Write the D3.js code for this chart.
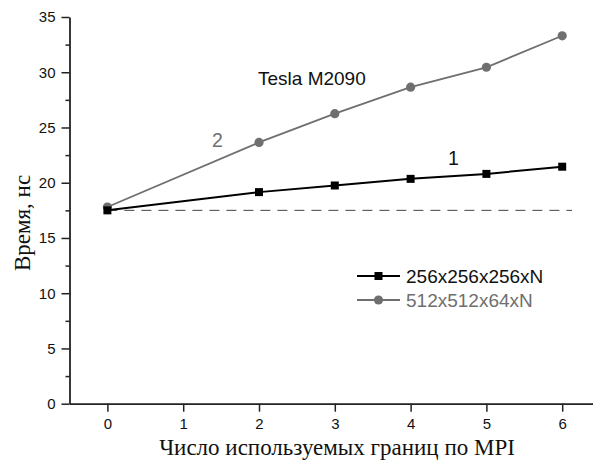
<!DOCTYPE html>
<html>
<head>
<meta charset="utf-8">
<script src="https://cdn.jsdelivr.net/npm/d3@7"></script>
<style>
	body { margin: 0; background: #fff; }
	svg { display: block; }
</style>
</head>
<body>
<div id="chart"></div>
<script>
// data
const xTicks = [0, 1, 2, 3, 4, 5, 6];
const yTicks = [0, 5, 10, 15, 20, 25, 30, 35];
const boundaries = [0, 2, 3, 4, 5, 6];
const series1 = [17.5, 19.15, 19.75, 20.35, 20.8, 21.45]; // 256x256x256xN
const series2 = [17.8, 23.65, 26.25, 28.65, 30.45, 33.3]; // 512x512x64xN
const baseline = 17.5;
const legendLabels = ['256x256x256xN', '512x512x64xN'];

const W = 593, H = 461;
const MARGIN = { LEFT: 69.5, TOP: 17, RIGHT: 0, BOTTOM: 57 };
const GRAY = '#6f6f6f';
const sans = 'Arial, "Liberation Sans", sans-serif';
const serif = '"Times New Roman", "Liberation Serif", serif';

const svg = d3.select('#chart').append('svg')
	.attr('width', W)
	.attr('height', H);

const x = d3.scaleLinear().domain([-0.5, 6.5]).range([MARGIN.LEFT, MARGIN.LEFT + 530.6]);
const y = d3.scaleLinear().domain([0, 35]).range([403.7, MARGIN.TOP]);

// y axis with minor ticks
const yMinor = d3.range(2.5, 35, 5);
svg.append('g')
	.attr('transform', `translate(${MARGIN.LEFT},0)`)
	.call(d3.axisLeft(y).tickValues(yMinor).tickSize(4).tickFormat(''))
	.call(g => g.select('.domain').remove())
	.selectAll('line').attr('stroke', '#222').attr('stroke-width', 1.5);

const axisY = svg.append('g')
	.attr('transform', `translate(${MARGIN.LEFT},0)`)
	.call(d3.axisLeft(y).tickValues(yTicks).tickSize(8).tickPadding(6).tickSizeOuter(0));

const axisX = svg.append('g')
	.attr('transform', `translate(0,${y(0)})`)
	.call(d3.axisBottom(x).tickValues(xTicks).tickFormat(d3.format('d'))
		.tickSize(8).tickPadding(7).tickSizeOuter(0));

[axisY, axisX].forEach(g => {
	g.select('.domain').attr('stroke', '#222').attr('stroke-width', 1.8);
	g.selectAll('.tick line').attr('stroke', '#222').attr('stroke-width', 1.5);
	g.selectAll('.tick text')
		.attr('fill', '#111')
		.style('font-family', sans)
		.style('font-size', '15px');
});

// dashed reference line
svg.append('line')
	.attr('x1', x(0)).attr('x2', x(6.13))
	.attr('y1', y(baseline)).attr('y2', y(baseline))
	.attr('stroke', '#444')
	.attr('stroke-width', 1)
	.attr('stroke-dasharray', '10,7');

const line = d3.line()
	.x((d, i) => x(boundaries[i]))
	.y(d => y(d));

// series 2 (gray circles)
svg.append('path')
	.datum(series2)
	.attr('d', line)
	.attr('fill', 'none')
	.attr('stroke', GRAY)
	.attr('stroke-width', 1.8);

svg.append('g').selectAll('circle')
	.data(series2)
	.join('circle')
		.attr('cx', (d, i) => x(boundaries[i]))
		.attr('cy', d => y(d))
		.attr('r', 4.6)
		.attr('fill', GRAY);

// series 1 (black squares)
svg.append('path')
	.datum(series1)
	.attr('d', line)
	.attr('fill', 'none')
	.attr('stroke', '#000')
	.attr('stroke-width', 2);

svg.append('g').selectAll('rect')
	.data(series1)
	.join('rect')
		.attr('x', (d, i) => x(boundaries[i]) - 4)
		.attr('y', d => y(d) - 4)
		.attr('width', 8)
		.attr('height', 8)
		.attr('fill', '#000');

// annotations
svg.append('text')
	.text('Tesla M2090')
	.attr('x', 258).attr('y', 85)
	.style('font-family', sans).style('font-size', '19px').attr('fill', '#111');

svg.append('text')
	.text('2')
	.attr('x', 212).attr('y', 147)
	.style('font-family', sans).style('font-size', '19.5px').attr('fill', GRAY);

svg.append('text')
	.text('1')
	.attr('x', 448).attr('y', 165)
	.style('font-family', sans).style('font-size', '19.5px').attr('fill', '#111');

// legend
const legend = svg.append('g').attr('transform', 'translate(357,276)');
legendLabels.forEach((label, i) => {
	const col = i === 0 ? '#000' : GRAY;
	const row = legend.append('g').attr('transform', `translate(0,${i * 24})`);
	row.append('line')
		.attr('x1', 0).attr('x2', 43)
		.attr('stroke', col).attr('stroke-width', i === 0 ? 2 : 1.8);
	if (i === 0) {
		row.append('rect').attr('x', 17.5).attr('y', -4).attr('width', 8).attr('height', 8).attr('fill', col);
	} else {
		row.append('circle').attr('cx', 21.5).attr('r', 4.6).attr('fill', col);
	}
	row.append('text')
		.text(label)
		.attr('x', 49).attr('y', 7)
		.style('font-family', sans).style('font-size', '19px')
		.attr('fill', i === 0 ? '#111' : GRAY);
});

// axis titles
svg.append('text')
	.text('Время, нс')
	.attr('transform', 'translate(30,223) rotate(-90)')
	.attr('text-anchor', 'middle')
	.style('font-family', serif).style('font-size', '23px').attr('fill', '#111');

svg.append('text')
	.text('Число используемых границ по MPI')
	.attr('x', 337).attr('y', 455)
	.attr('text-anchor', 'middle')
	.style('font-family', serif).style('font-size', '23px').attr('fill', '#111');
</script>
</body>
</html>
